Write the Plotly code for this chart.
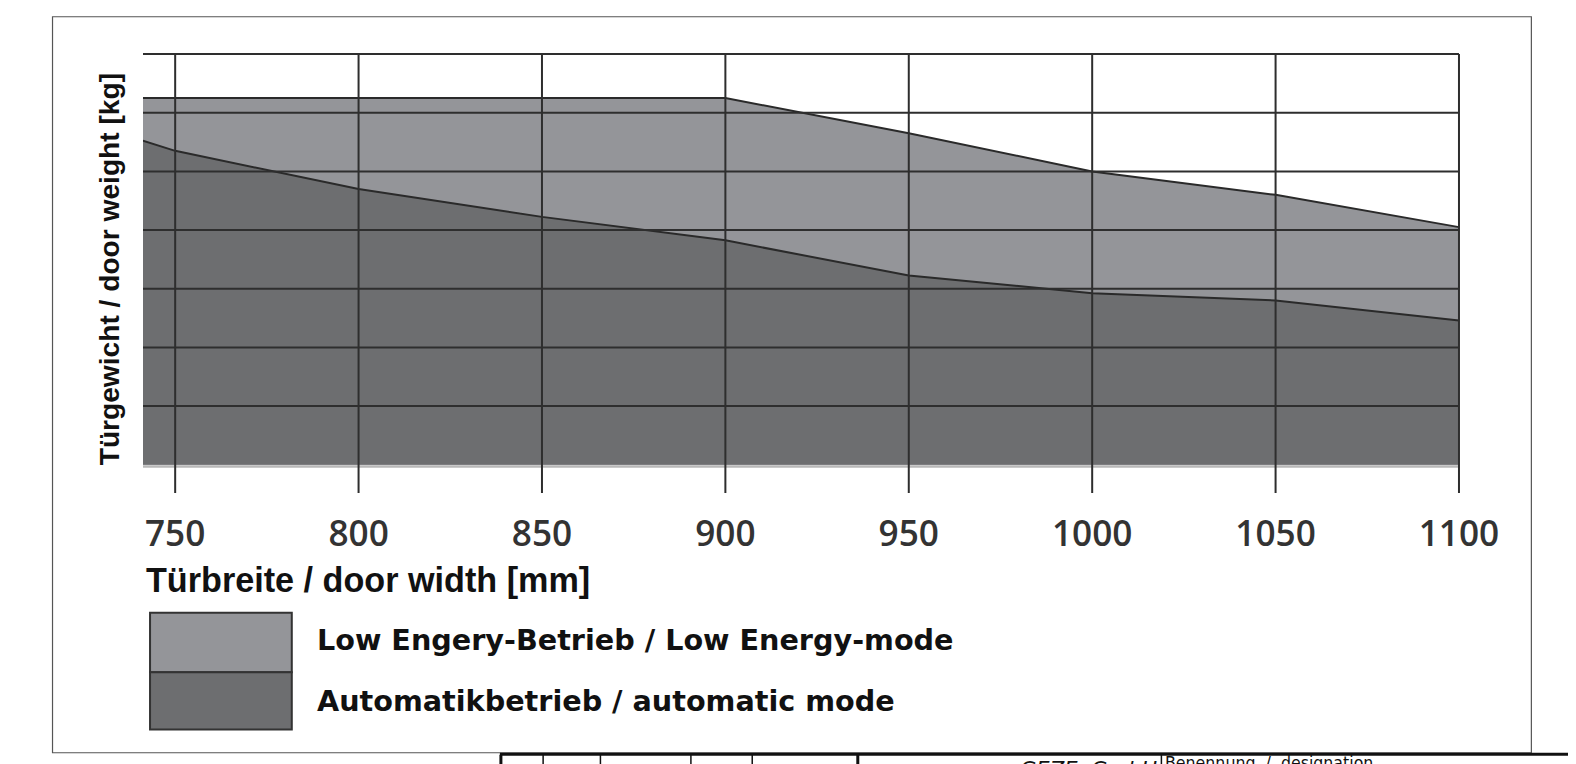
import plotly.graph_objects as go

# ---- data ----
door_width = [741.2, 750, 800, 850, 900, 950, 1000, 1050, 1100]
low_energy = [125, 125, 125, 125, 125, 113, 100, 92, 81]
automatic = [110.5, 107, 94, 84.5, 76.5, 64.5, 58.5, 56, 49.2]
x_ticks = [750, 800, 850, 900, 950, 1000, 1050, 1100]
x_tick_labels = ["750", "800", "850", "900", "950", "1000", "1050", "1100"]
y_grid = [20, 40, 60, 80, 100, 120, 140]
legend_labels = ["Low Engery-Betrieb / Low Energy-mode", "Automatikbetrieb / automatic mode"]

# ---- geometry (target picture pixels; page has 8px body margin, capture scale ~0.9945) ----
K = 1 / 0.9945
OFF = 8
SW, SH = 1576, 764
W, H = round(SW * K) - OFF, round(SH * K) - OFF
L, R, T, B = 142, 1454, 51, 490
PXMM = (1451 - 174) / 350.0
PXKG = (462 - 54) / 140.0
x_range = [750 - (174 - L) / PXMM, 1100 + (R - 1451) / PXMM]
y_range = [-(B - 462) / PXKG, 140 + (54 - T) / PXKG]

def px(x):
    return (x - L) / (R - L)

def py(y):
    return (B - y) / (B - T)

def fs(s):
    return s * K

LIGHT = "#949599"
DARK = "#6d6e70"
GRID = "#2e2e2e"

fig = go.Figure()
fig.add_trace(go.Scatter(x=door_width, y=low_energy, mode="lines", fill="tozeroy",
                         fillcolor=LIGHT, line=dict(color="#2a2a2a", width=2),
                         name=legend_labels[0], hoverinfo="skip", showlegend=False))
fig.add_trace(go.Scatter(x=door_width, y=automatic, mode="lines", fill="tozeroy",
                         fillcolor=DARK, line=dict(color="#2a2a2a", width=2),
                         name=legend_labels[1], hoverinfo="skip", showlegend=False))

shapes = []
# horizontal grid
for v in y_grid:
    shapes.append(dict(type="line", xref="x", yref="y", x0=x_range[0], x1=1100, y0=v, y1=v,
                       line=dict(color=GRID, width=2), layer="above"))
shapes.append(dict(type="line", xref="x", yref="y", x0=x_range[0], x1=1100, y0=-0.6, y1=-0.6,
                   line=dict(color="#b8b8b8", width=2.5), layer="above"))
# vertical grid
for v in x_ticks:
    shapes.append(dict(type="line", xref="x", yref="y", x0=v, x1=v, y0=y_range[0], y1=140,
                       line=dict(color=GRID, width=2), layer="above"))

# outer frame
shapes.append(dict(type="rect", xref="paper", yref="paper", x0=px(52), x1=px(1523),
                   y0=py(748), y1=py(17), line=dict(color="#555555", width=1.2)))
# title block
shapes.append(dict(type="line", xref="paper", yref="paper", x0=px(497), x1=px(1590),
                   y0=py(749.5), y1=py(749.5), line=dict(color="#111111", width=3)))
for xv, wv in [(498, 3), (540, 1.5), (597, 1.5), (687, 1.5), (748, 1.5), (853, 3), (1155, 1.5)]:
    shapes.append(dict(type="line", xref="paper", yref="paper", x0=px(xv), x1=px(xv),
                       y0=py(750), y1=py(775), line=dict(color="#111111", width=wv)))

# legend boxes
shapes.append(dict(type="rect", xref="paper", yref="paper", x0=px(149), x1=px(290),
                   y0=py(668), y1=py(609), fillcolor=LIGHT, line=dict(color="#333333", width=2)))
shapes.append(dict(type="rect", xref="paper", yref="paper", x0=px(149), x1=px(290),
                   y0=py(725), y1=py(668), fillcolor=DARK, line=dict(color="#333333", width=2)))

BOLD = "Liberation Sans"
annotations = [
    dict(xref="paper", yref="paper", x=px(143), y=py(576), xanchor="left", yanchor="middle",
         text="<b>Türbreite / door width [mm]</b>", showarrow=False,
         font=dict(family=BOLD, size=fs(34), color="#111111")),
    dict(xref="paper", yref="paper", x=px(109), y=py(268), xanchor="center", yanchor="middle",
         text="<b>Türgewicht / door weight [kg]</b>", showarrow=False, textangle=-90,
         font=dict(family=BOLD, size=fs(28), color="#111111")),
    dict(xref="paper", yref="paper", x=px(313), y=py(636), xanchor="left", yanchor="middle",
         text="<b>" + legend_labels[0] + "</b>", showarrow=False,
         font=dict(family="DejaVu Sans", size=fs(28.5), color="#111111")),
    dict(xref="paper", yref="paper", x=px(313), y=py(697), xanchor="left", yanchor="middle",
         text="<b>" + legend_labels[1] + "</b>", showarrow=False,
         font=dict(family="DejaVu Sans", size=fs(28.5), color="#111111")),
    dict(xref="paper", yref="paper", x=px(1012), y=py(750), xanchor="left", yanchor="top",
         text="<i>GEZE  GmbH</i>", showarrow=False,
         font=dict(family="DejaVu Sans", size=fs(21), color="#111111")),
    dict(xref="paper", yref="paper", x=px(1157), y=py(746), xanchor="left", yanchor="top",
         text="Benennung  /  designation", showarrow=False,
         font=dict(family="DejaVu Sans Condensed", size=fs(17.5), color="#111111")),
]

fig.update_layout(
    width=W, height=H,
    margin=dict(l=L * K - OFF, r=(W + OFF) - R * K, t=T * K - OFF, b=(H + OFF) - B * K, pad=0),
    paper_bgcolor="white", plot_bgcolor="white",
    shapes=shapes, annotations=annotations, showlegend=False,
    xaxis=dict(range=x_range, tickvals=x_ticks, ticktext=x_tick_labels, showgrid=False,
               zeroline=False, showline=False, ticks="", ticklabelstandoff=17,
               tickfont=dict(family="Open Sans", size=fs(35), color="#333333", weight=600)),
    yaxis=dict(range=y_range, showgrid=False, zeroline=False, showline=False,
               showticklabels=False, ticks=""),
)

fig.write_html("out.html", config={"displayModeBar": False, "staticPlot": True})
